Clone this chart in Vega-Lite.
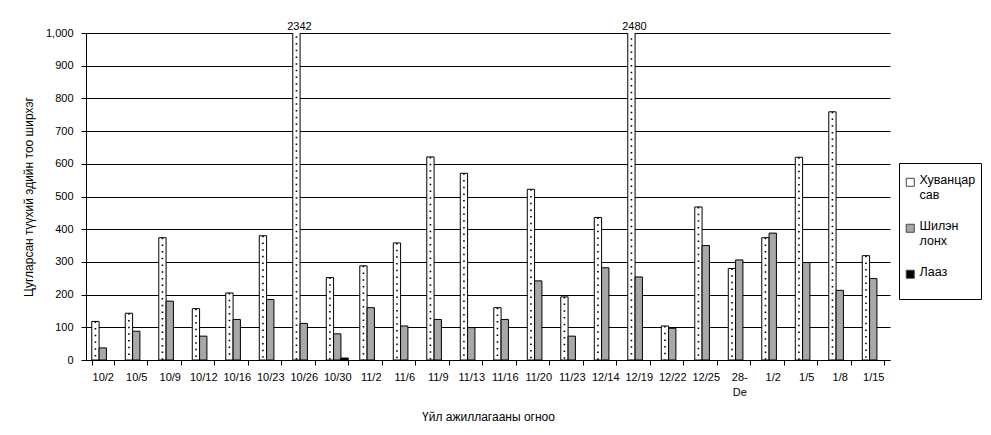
{
  "$schema": "https://vega.github.io/schema/vega-lite/v6.json",
  "autosize": {"type": "none"},
  "padding": {"left": 86, "top": 33, "right": 101, "bottom": 75},
  "width": 804,
  "height": 327,
  "background": "white",
  "data": {
    "values": [
      {"date": "10/2", "Хуванцар сав": 118, "Шилэн лонх": 37},
      {"date": "10/5", "Хуванцар сав": 143, "Шилэн лонх": 88},
      {"date": "10/9", "Хуванцар сав": 374, "Шилэн лонх": 180},
      {"date": "10/12", "Хуванцар сав": 157, "Шилэн лонх": 73},
      {"date": "10/16", "Хуванцар сав": 205, "Шилэн лонх": 124},
      {"date": "10/23", "Хуванцар сав": 380, "Шилэн лонх": 185},
      {"date": "10/26", "Хуванцар сав": 2342, "Шилэн лонх": 112},
      {"date": "10/30", "Хуванцар сав": 252, "Шилэн лонх": 80, "Лааз": 6},
      {"date": "11/2", "Хуванцар сав": 288, "Шилэн лонх": 160},
      {"date": "11/6", "Хуванцар сав": 358, "Шилэн лонх": 104},
      {"date": "11/9", "Хуванцар сав": 621, "Шилэн лонх": 124},
      {"date": "11/13", "Хуванцар сав": 571, "Шилэн лонх": 99},
      {"date": "11/16", "Хуванцар сав": 160, "Шилэн лонх": 124},
      {"date": "11/20", "Хуванцар сав": 522, "Шилэн лонх": 242},
      {"date": "11/23", "Хуванцар сав": 193, "Шилэн лонх": 73},
      {"date": "12/14", "Хуванцар сав": 436, "Шилэн лонх": 282},
      {"date": "12/19", "Хуванцар сав": 2480, "Шилэн лонх": 254},
      {"date": "12/22", "Хуванцар сав": 104, "Шилэн лонх": 97},
      {"date": "12/25", "Хуванцар сав": 468, "Шилэн лонх": 350},
      {"date": "28-De", "Хуванцар сав": 280, "Шилэн лонх": 306},
      {"date": "1/2", "Хуванцар сав": 374, "Шилэн лонх": 388},
      {"date": "1/5", "Хуванцар сав": 620, "Шилэн лонх": 298},
      {"date": "1/8", "Хуванцар сав": 759, "Шилэн лонх": 213},
      {"date": "1/15", "Хуванцар сав": 319, "Шилэн лонх": 249}
    ]
  },
  "transform": [
    {"fold": ["Хуванцар сав", "Шилэн лонх", "Лааз"], "as": ["type", "count"]},
    {"filter": "isValid(datum.count)"}
  ],
  "encoding": {
    "x": {
      "field": "date",
      "type": "nominal",
      "sort": null,
      "scale": {"paddingInner": 0.345, "paddingOuter": 0.1725},
      "axis": {
        "title": "Үйл ажиллагааны огноо",
        "labelAngle": 0,
        "labelPadding": 6,
        "labelLineHeight": 15,
        "labelExpr": "datum.value == '28-De' ? ['28-', 'De'] : datum.value",
        "tickBand": "extent",
        "tickSize": 5,
        "titleY": 56,
        "titleBaseline": "middle",
        "grid": false
      }
    },
    "xOffset": {
      "field": "type",
      "type": "nominal",
      "scale": {"domain": ["Хуванцар сав", "Шилэн лонх", "Лааз"], "paddingInner": 0, "paddingOuter": 0}
    }
  },
  "layer": [
    {
      "mark": {"type": "bar", "clip": true, "stroke": "black", "strokeWidth": 1},
      "encoding": {
        "y": {
          "field": "count",
          "type": "quantitative",
          "scale": {"domain": [0, 1000], "nice": false},
          "axis": {
            "title": "Цугларсан түүхий эдийн тоо ширхэг",
            "values": [0, 100, 200, 300, 400, 500, 600, 700, 800, 900, 1000],
            "format": ",d",
            "labelOverlap": false,
            "tickSize": 5,
            "labelPadding": 8,
            "titleX": -58,
            "titleBaseline": "middle",
            "grid": true
          }
        },
        "color": {
          "field": "type",
          "type": "nominal",
          "scale": {
            "domain": ["Хуванцар сав", "Шилэн лонх", "Лааз"],
            "range": ["#ffffff", "#a8a8a8", "#000000"]
          },
          "legend": {
            "title": " ",
            "titleFontSize": 8,
            "titlePadding": 0,
            "orient": "none",
            "legendX": 813,
            "legendY": 130,
            "strokeColor": "black",
            "padding": 5,
            "symbolType": "square",
            "symbolSize": 64,
            "symbolStrokeColor": "#444444",
            "symbolStrokeWidth": 1,
            "labelFontSize": 12.5,
            "labelLineHeight": 18,
            "labelOffset": 3,
            "rowPadding": 18,
            "labelExpr": "datum.label == 'Лааз' ? ['Лааз', ''] : split(datum.label, ' ')",
            "labelBaseline": "top",
            "encode": {"labels": {"update": {"dy": {"value": -8}}}}
          }
        }
      }
    },
    {
      "transform": [{"filter": "datum.type == 'Хуванцар сав'"}],
      "mark": {"type": "rule", "clip": true, "color": "black", "strokeWidth": 1.6, "strokeDash": [1.5, 5.2]},
      "encoding": {
        "y": {
          "field": "count",
          "type": "quantitative",
          "axis": {
            "title": "Цугларсан түүхий эдийн тоо ширхэг",
            "values": [0, 100, 200, 300, 400, 500, 600, 700, 800, 900, 1000],
            "format": ",d",
            "labelOverlap": false,
            "tickSize": 5,
            "labelPadding": 8,
            "titleX": -58,
            "titleBaseline": "middle",
            "grid": true
          }
        },
        "y2": {"datum": 0}
      }
    },
    {
      "transform": [{"filter": "datum.count > 1000"}],
      "mark": {"type": "text", "baseline": "bottom", "dy": -1, "dx": 3, "fontSize": 11, "font": "Liberation Sans", "color": "black"},
      "encoding": {
        "y": {
          "datum": 1000,
          "axis": {
            "title": "Цугларсан түүхий эдийн тоо ширхэг",
            "values": [0, 100, 200, 300, 400, 500, 600, 700, 800, 900, 1000],
            "format": ",d",
            "labelOverlap": false,
            "tickSize": 5,
            "labelPadding": 8,
            "titleX": -58,
            "titleBaseline": "middle",
            "grid": true
          }
        },
        "text": {"field": "count", "type": "quantitative", "format": "d"}
      }
    }
  ],
  "config": {
    "font": "Liberation Sans",
    "view": {"stroke": null},
    "axis": {
      "labelFont": "Liberation Sans",
      "titleFont": "Liberation Sans",
      "labelFontSize": 11,
      "titleFontSize": 12,
      "titleFontWeight": "normal",
      "labelColor": "black",
      "titleColor": "black",
      "domainColor": "black",
      "tickColor": "black",
      "gridColor": "black",
      "gridOpacity": 1,
      "domainWidth": 1,
      "tickWidth": 1
    },
    "legend": {"labelFont": "Liberation Sans", "labelColor": "black"}
  }
}
